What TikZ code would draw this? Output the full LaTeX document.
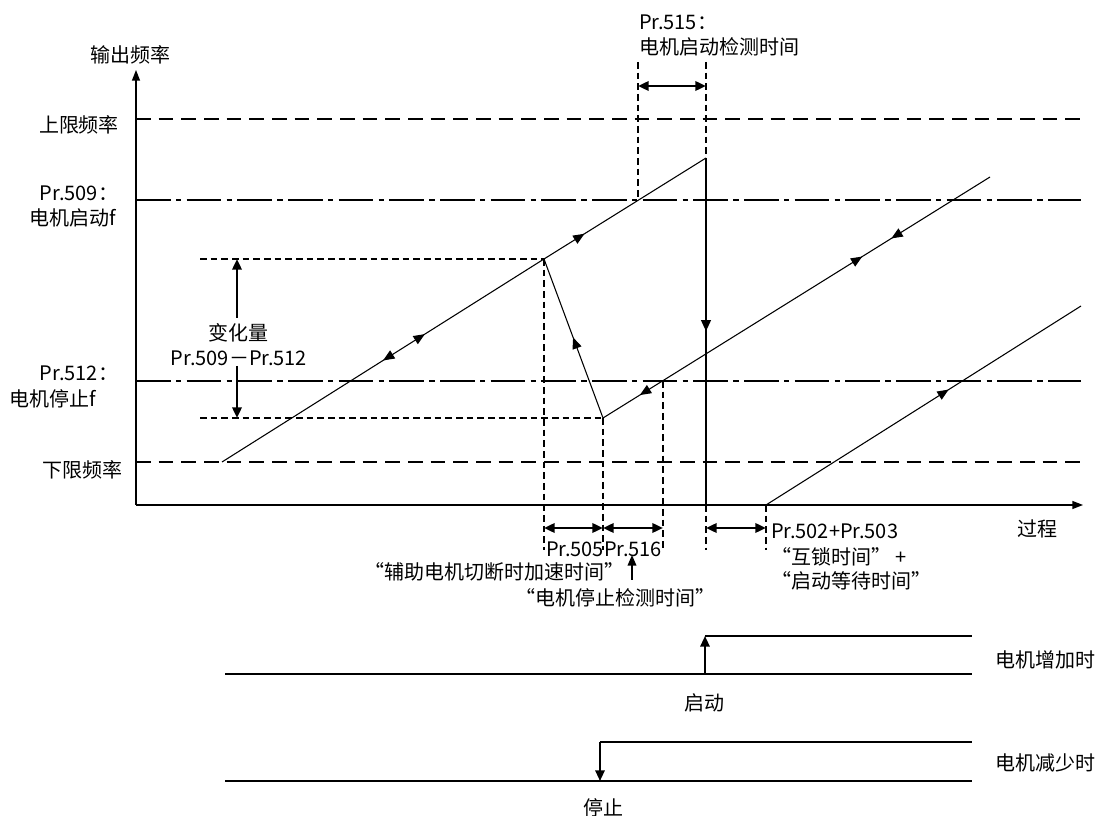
\documentclass[tikz,border=0pt]{standalone}
\usepackage{fontspec}
\setmainfont{Noto Sans CJK SC}
\usetikzlibrary{arrows.meta,decorations.markings}
\tikzset{
  thinln/.style={line width=0.8pt},
  axisln/.style={line width=1pt,-{Triangle[length=8pt,width=6pt]}},
  limitln/.style={line width=0.8pt,dash pattern=on 11pt off 6pt},
  dashdotln/.style={line width=0.8pt,dash pattern=on 26pt off 4pt on 4pt off 4pt},
  guideln/.style={line width=0.8pt,dash pattern=on 5pt off 3pt},
  dimarrow/.style={line width=1.8pt,{Triangle[length=8pt,width=7pt]}-{Triangle[length=8pt,width=7pt]}},
  onearrow/.style={line width=1.5pt,-{Triangle[length=8pt,width=7pt]}},
  fwd/.style={postaction={decorate,decoration={markings,mark=at position #1 with {\arrow{Triangle[length=8.5pt,width=7pt]}}}}},
  bwd/.style={postaction={decorate,decoration={markings,mark=at position #1 with {\arrow{Triangle[reversed,length=8.5pt,width=7pt]}}}}},
  sigln/.style={line width=2pt},
  lbl/.style={inner sep=0pt,outer sep=0pt},
}
\begin{document}
\begin{tikzpicture}[x=0.75pt,y=-0.75pt,font=\fontsize{15pt}{18pt}\selectfont]
\useasboundingbox (0,0) rectangle (1101,816);
% key coordinates
\coordinate (O) at (136,505);
\coordinate (Ytop) at (136,70);
\coordinate (Xend) at (1083,505);
\coordinate (A) at (222,462);
\coordinate (P) at (544,259);
\coordinate (T) at (706,158);
\coordinate (Tb) at (706,505);
\coordinate (V) at (603,418);
\coordinate (E) at (990,177);
\coordinate (F0) at (766,505);
\coordinate (F1) at (1081,306);

% horizontal reference lines
\draw[limitln] (136,119) -- (1083,119);
\draw[dashdotln] (136,200) -- (1081,200);
\draw[dashdotln] (136,381) -- (1081,381);
\draw[limitln] (136,462) -- (1083,462);

% guide lines
\draw[guideln] (200,259) -- (P);
\draw[guideln] (200,418) -- (V);
\draw[guideln] (P) -- (544,550);
\draw[guideln] (V) -- (603,550);
\draw[guideln] (663,381) -- (663,550);
\draw[guideln] (Tb) -- (706,550);
\draw[guideln] (F0) -- (766,550);
\draw[guideln] (638,62) -- (638,200);
\draw[guideln] (706,62) -- (T);

% axes
\draw[axisln] (O) -- (Ytop);
\draw[axisln] (O) -- (Xend);

% curves
\draw[thinln,bwd=0.53,fwd=0.63] (A) -- (P);
\draw[thinln,fwd=0.25] (P) -- (T);
\draw[line width=2pt,fwd=0.5] (T) -- (Tb);
\draw[thinln,bwd=0.56] (P) -- (V);
\draw[thinln,bwd=0.12,fwd=0.67,bwd=0.77] (V) -- (E);
\draw[thinln,fwd=0.58] (F0) -- (F1);

% dimension arrows
\draw[dimarrow] (638,86) -- (706,86);
\draw[dimarrow] (544,528) -- (603,528);
\draw[dimarrow] (603,528) -- (663,528);
\draw[dimarrow] (706,528) -- (766,528);
\draw[dimarrow,{Triangle[length=8pt,width=7pt]}-] (237,259) -- (237,318);
\draw[dimarrow,-{Triangle[length=8pt,width=7pt]}] (237,366) -- (237,418);
\draw[line width=1.2pt,-{Triangle[length=8pt,width=6.5pt]}] (632,580) -- (632,555);

% labels
\node[lbl] (yl) at (130,55) {输出频率};
\node[lbl] (ul) at (79,125) {上限频率};
\node[lbl,anchor=west] (p509a) at (40,193) {Pr.509：};
\node[lbl,anchor=west] (p509b) at (30,218) {电机启动f};
\node[lbl] (bh1) at (238,333) {变化量};
\node[lbl] (bh2) at (239,358) {Pr.509－Pr.512};
\node[lbl,anchor=west] (p512a) at (40,373) {Pr.512：};
\node[lbl,anchor=west] (p512b) at (10,399) {电机停止f};
\node[lbl] (ll) at (82,470) {下限频率};
\node[lbl,anchor=west] (p515a) at (639,22) {Pr.515：};
\node[lbl,anchor=west] (p515b) at (639,47) {电机启动检测时间};
\node[lbl] (xl) at (1037,529) {过程};
\node[lbl,anchor=west] (p505) at (546,549) {Pr.505};
\node[lbl,anchor=west] (p516) at (604,549) {Pr.516};
\node[lbl] (aux) at (494,572) {“辅助电机切断时加速时间”};
\node[lbl] (stp) at (615,598) {“电机停止检测时间”};
\node[lbl,anchor=west] (p502) at (771,531) {Pr.502+Pr.503};
\node[lbl,anchor=west] (ilk) at (771,557) {“互锁时间” +};
\node[lbl,anchor=west] (wt) at (771,581) {“启动等待时间”};

% timing diagrams
\coordinate (S1a) at (225,674);
\coordinate (S1b) at (972,674);
\coordinate (S1c) at (705,674);
\coordinate (S1d) at (705,636);
\coordinate (S1e) at (972,636);
\draw[sigln] (S1a) -- (S1b);
\draw[sigln] (S1d) -- (S1e);
\draw[onearrow] (S1c) -- (S1d);
\coordinate (S2a) at (225,781);
\coordinate (S2b) at (972,781);
\coordinate (S2c) at (600,742);
\coordinate (S2d) at (600,781);
\coordinate (S2e) at (972,742);
\draw[sigln] (S2a) -- (S2b);
\draw[sigln] (S2c) -- (S2e);
\draw[onearrow] (S2c) -- (S2d);
\node[lbl,anchor=west] (inc) at (995,660) {电机增加时};
\node[lbl,anchor=west] (dec) at (995,763) {电机减少时};
\node[lbl] (qd) at (704,703) {启动};
\node[lbl] (tz) at (603,808) {停止};
\end{tikzpicture}
\end{document}
